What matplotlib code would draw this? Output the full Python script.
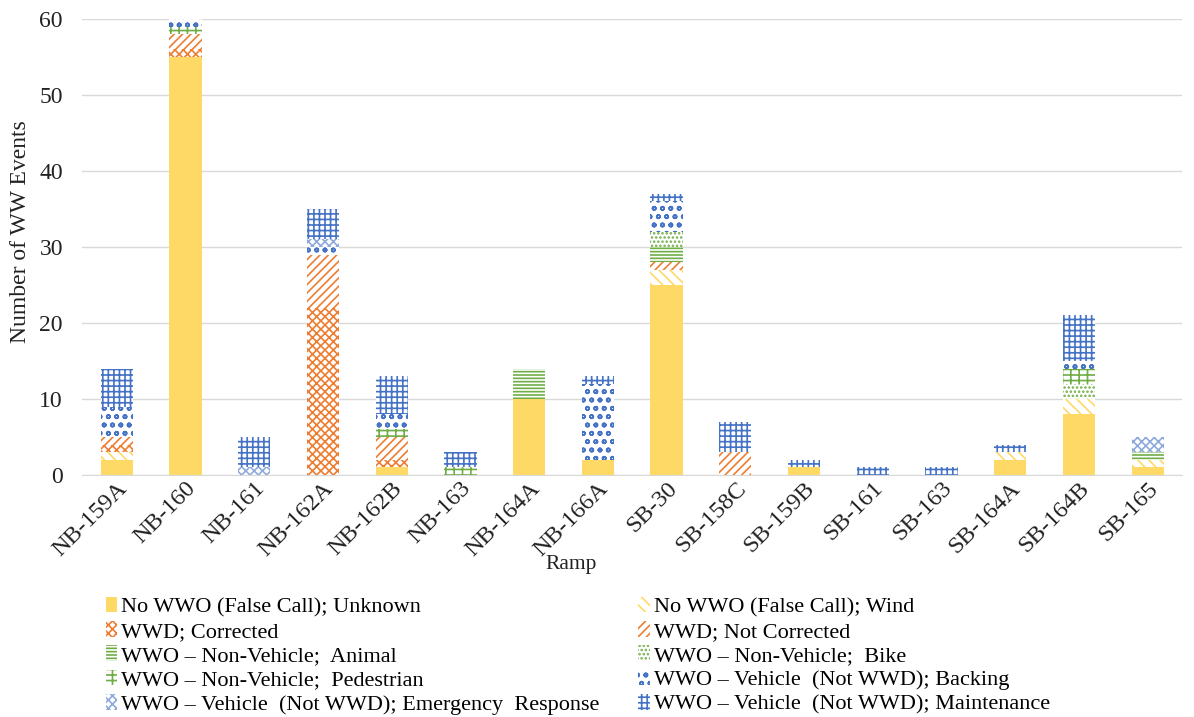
import matplotlib.pyplot as plt
import numpy as np

plt.rcParams['font.family'] = ['Liberation Serif', 'DejaVu Serif']
plt.rcParams['hatch.linewidth'] = 1.2

ramps = ['NB-159A', 'NB-160', 'NB-161', 'NB-162A', 'NB-162B', 'NB-163', 'NB-164A', 'NB-166A',
         'SB-30', 'SB-158C', 'SB-159B', 'SB-161', 'SB-163', 'SB-164A', 'SB-164B', 'SB-165']

# event counts per ramp, one list per category (stack order bottom -> top)
unknown = [2, 55, 0, 0, 1, 0, 10, 2, 25, 0, 1, 0, 0, 2, 8, 1]
wind = [1, 0, 0, 0, 0, 0, 0, 0, 2, 0, 0, 0, 0, 1, 2, 1]
corrected = [1, 1, 0, 22, 1, 0, 0, 0, 0, 0, 0, 0, 0, 0, 0, 0]
not_corrected = [1, 2, 0, 7, 3, 0, 0, 0, 1, 3, 0, 0, 0, 0, 0, 0]
animal = [0, 0, 0, 0, 0, 0, 4, 0, 2, 0, 0, 0, 0, 0, 0, 1]
bike = [0, 0, 0, 0, 0, 0, 0, 0, 2, 0, 0, 0, 0, 0, 2, 0]
pedestrian = [0, 1, 0, 0, 1, 1, 0, 0, 0, 0, 0, 0, 0, 0, 2, 0]
backing = [4, 1, 0, 1, 2, 0, 0, 10, 4, 0, 0, 0, 0, 0, 1, 0]
emergency = [0, 0, 1, 1, 0, 0, 0, 0, 0, 0, 0, 0, 0, 0, 0, 2]
maintenance = [5, 0, 4, 4, 5, 2, 0, 1, 1, 4, 1, 1, 1, 1, 6, 0]

labels = ['No WWO (False Call); Unknown', 'No WWO (False Call); Wind',
          'WWD; Corrected', 'WWD; Not Corrected',
          'WWO \u2013 Non-Vehicle;  Animal', 'WWO \u2013 Non-Vehicle;  Bike',
          'WWO \u2013 Non-Vehicle;  Pedestrian', 'WWO \u2013 Vehicle  (Not WWD); Backing',
          'WWO \u2013 Vehicle  (Not WWD); Emergency  Response', 'WWO \u2013 Vehicle  (Not WWD); Maintenance']
series = [unknown, wind, corrected, not_corrected, animal, bike, pedestrian, backing, emergency, maintenance]

yellow = '#FFD966'
orange = '#ED7D31'
green = '#70AD47'
blue = '#4472C4'
styles = [(yellow, yellow, None), ('white', yellow, '\\\\\\'), ('white', orange, 'xxxx'),
          ('white', orange, '////'), ('white', green, '-----'), ('white', green, '....'),
          ('white', green, '-++'), ('white', blue, 'oo'), ('white', '#8eaadb', 'xxxx'),
          ('white', blue, '+++')]

fig = plt.figure(figsize=(11.94, 7.17), dpi=100)
ax = fig.add_axes([0.069, 0.3375, 0.921, 0.636])

x = np.arange(len(ramps))
bottom = np.zeros(len(ramps))
handles = []
for vals, lab, (fc, ec, h) in zip(series, labels, styles):
    vals = np.array(vals, dtype=float)
    b = ax.bar(x, vals, 0.47, bottom=bottom, color=fc, edgecolor=ec, hatch=h, linewidth=0, label=lab)
    handles.append(b)
    bottom += vals

ax.set_xlim(-0.5, len(ramps) - 0.5)
ax.set_ylim(0, 60)
ax.set_yticks(range(0, 61, 10))
ax.grid(axis='y', color='#d9d9d9', linewidth=1)
ax.set_axisbelow(True)
for s in ['top', 'right', 'left']:
    ax.spines[s].set_visible(False)
ax.spines['bottom'].set_color('#d9d9d9')
ax.tick_params(axis='both', length=0, colors='#222222')
ax.tick_params(axis='y', pad=14, labelsize=17)
ax.tick_params(axis='x', pad=2, labelsize=17.5)
ax.set_xticks(x)
ax.set_xticklabels(ramps, rotation=45, ha='right', rotation_mode='anchor')
ax.set_ylabel('Number of WW Events', fontsize=17, color='#222222')
ax.yaxis.set_label_coords(-0.047, 0.533)
fig.text(0.478, 0.212, 'Ramp', fontsize=15.5, ha='center', va='center', color='#222222')

order = [0, 2, 4, 6, 8, 1, 3, 5, 7, 9]
fig.legend([handles[i] for i in order], [labels[i] for i in order], ncol=2,
           loc='upper left', bbox_to_anchor=(0.081, 0.18), frameon=False, fontsize=16,
           handlelength=0.5, handleheight=0.7, handletextpad=0.2, columnspacing=1.75,
           labelspacing=0.17, borderaxespad=0)

plt.savefig('out.png', dpi=100)
